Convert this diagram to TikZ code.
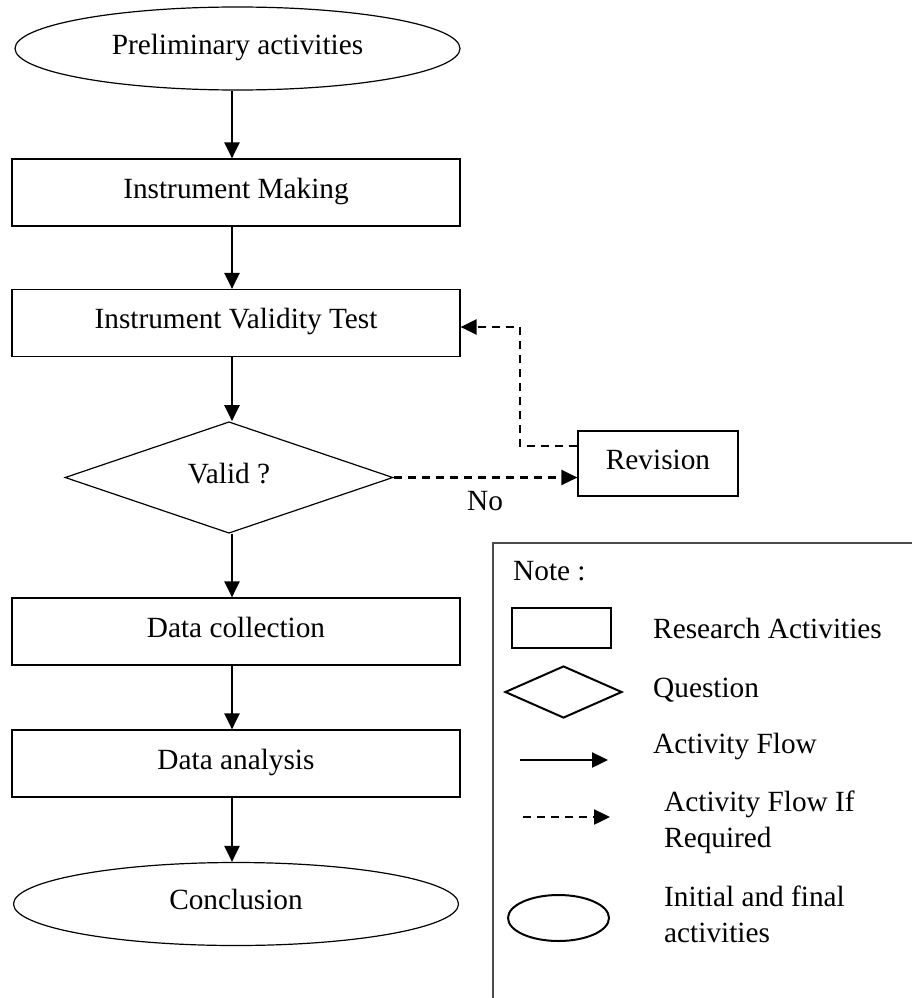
\documentclass[tikz,border=0pt]{standalone}
\usepackage{fontspec}
\setmainfont{Liberation Serif}
\usetikzlibrary{shapes.geometric,arrows.meta}
\begin{document}
\begin{tikzpicture}[x=1pt,y=-1pt,
  every node/.style={font=\fontsize{29.3}{35.5}\selectfont},
  shp/.style={draw,line width=1.2pt,inner sep=0pt,text height=20.5pt,text depth=8.8pt},
  procbox/.style={shp,rectangle,minimum width=448pt,minimum height=67pt},
  term/.style={shp,ellipse,minimum width=445pt,minimum height=83pt},
  dia/.style={shp,diamond,minimum width=328pt,minimum height=109pt},
  lgshape/.style={draw,line width=2pt,inner sep=0pt},
  lbl/.style={anchor=base west,inner sep=0pt,align=left},
  flow/.style={line width=2.4pt,-{Triangle[length=16pt,width=15pt]}},
  opt/.style={line width=2.4pt,dash pattern=on 8pt off 6pt,-{Triangle[length=16pt,width=15pt]}},
  legline/.style={draw=black!70,line width=1.4pt}
]
\useasboundingbox (0,0) rectangle (912,998);

% main flow
\node[term] (pre) at (237.5,48.5) {Preliminary activities};
\node[procbox] (make) at (236,192.5) {Instrument Making};
\node[procbox] (test) at (236,323) {Instrument Validity Test};
\node[dia] (valid) at (229,477.5) {Valid ?};
\node[procbox] (coll) at (236,631.5) {Data collection};
\node[procbox] (anal) at (236,763.5) {Data analysis};
\node[term] (conc) at (236,904) {Conclusion};
\node[shp,rectangle,minimum width=160pt,minimum height=65pt] (rev) at (658,463.5) {Revision};
\node[anchor=base,inner sep=0pt] (no) at (485,510) {No};

\coordinate (ax) at (232,0);
\draw[flow] (pre.south -| ax) -- (make.north -| ax);
\draw[flow] (make.south -| ax) -- (test.north -| ax);
\draw[flow] (test.south -| ax) -- (valid.north -| ax);
\draw[flow] (valid.south -| ax) -- (coll.north -| ax);
\draw[flow] (coll.south -| ax) -- (anal.north -| ax);
\draw[flow] (anal.south -| ax) -- (conc.north -| ax);

\draw[opt] (valid.east) -- (valid.east -| rev.west);
\coordinate (bend) at (520,327);
\draw[opt] ([yshift=17.5pt]rev.west) -| (bend) -- (bend -| test.east);

% legend
\coordinate (lgTR) at (912,543);
\coordinate (lgTL) at (493,543);
\coordinate (lgBL) at (493,998);
\draw[legline] (lgTR) -- (lgTL) -- (lgBL);

\node[lbl] (note) at (513,580) {Note :};
\node[lgshape,rectangle,minimum width=99pt,minimum height=40pt] (lrect) at (561.5,628) {};
\node[lbl] (lr) at (653,638) {Research Activities};
\node[lgshape,diamond,minimum width=117pt,minimum height=52pt] (ldia) at (563.5,692) {};
\node[lbl] (lq) at (653,697) {Question};
\node[lbl] (lf) at (653,753) {Activity Flow};
\coordinate (a1) at (520,760);
\coordinate (a2) at (608,760);
\draw[flow] (a1) -- (a2);
\coordinate (d1) at (523,817);
\coordinate (d2) at (610,817);
\draw[opt] (d1) -- (d2);
\node[lbl] (lfr) at (664,847) {Activity Flow If\\Required};
\node[lgshape,ellipse,minimum width=101pt,minimum height=46pt] (lell) at (558.5,918) {};
\node[lbl] (lie) at (664,942) {Initial and final\\activities};
\end{tikzpicture}
\end{document}
